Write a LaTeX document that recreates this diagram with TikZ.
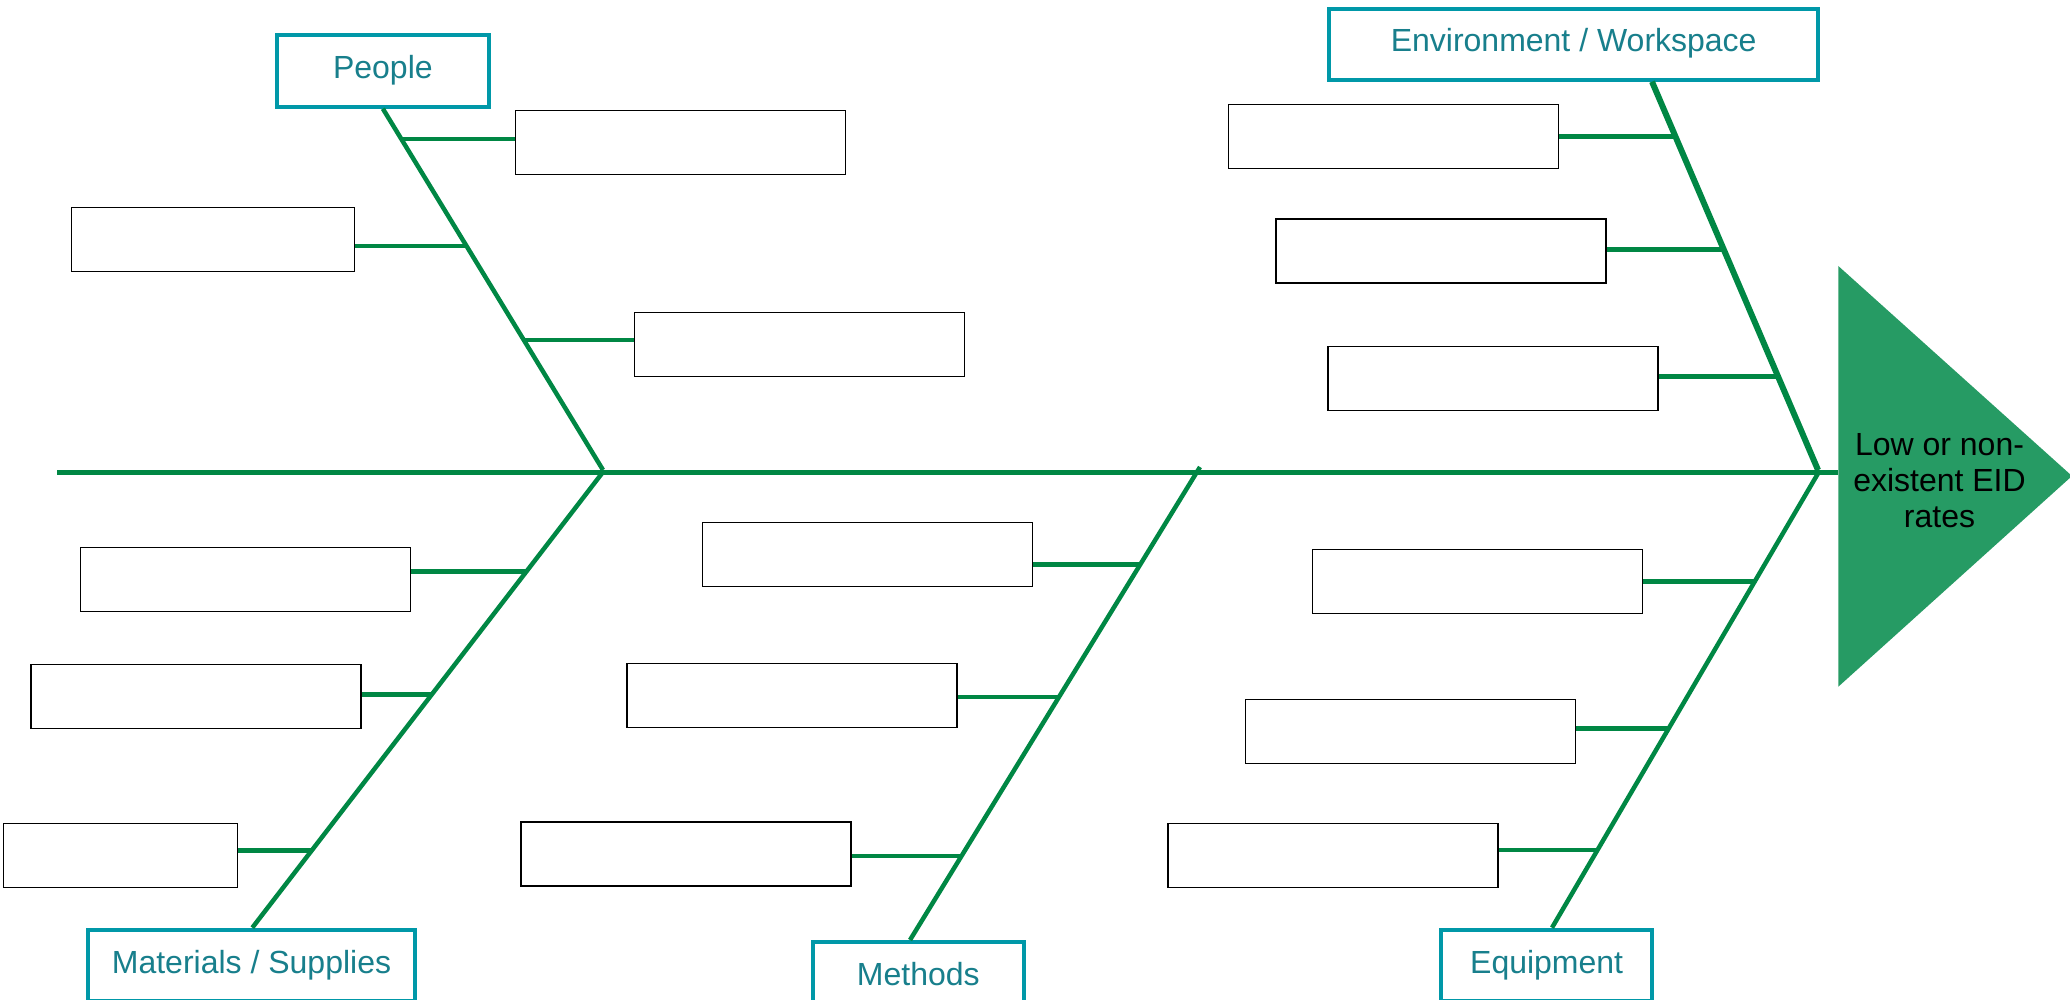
\documentclass[tikz,border=0pt]{standalone}
\usepackage{fontspec}
\setmainfont{Liberation Sans}
\definecolor{bone}{RGB}{0,135,68}
\definecolor{headgreen}{RGB}{38,155,100}
\definecolor{catline}{RGB}{0,152,168}
\definecolor{cattext}{RGB}{24,127,140}
\begin{document}
\begin{tikzpicture}[x=1pt,y=-1pt,
  cat/.style={draw=catline, line width=4pt, fill=white, text=cattext,
    font=\fontsize{32}{36}\selectfont, inner sep=0pt,
    text height=23pt, text depth=8pt, minimum height=71.7pt},
  cause/.style={draw=black, line width=1.3pt, fill=white, inner sep=0pt,
    minimum width=330pt, minimum height=64pt},
  bonel/.style={draw=bone, line width=4.5pt},
  subbone/.style={draw=bone, line width=4.5pt},
]
\useasboundingbox (0,0) rectangle (2070,1000);
\clip (0,0) rectangle (2070,1000);

% head
\coordinate (ht) at (1838.3,266);
\coordinate (hb) at (1838.3,686.7);
\coordinate (htip) at (2072,476);
\fill[headgreen] (ht) -- (htip) -- (hb) -- cycle;
\node[align=center, inner sep=0pt, font=\fontsize{32}{36}\selectfont] (effect) at (1939.5,480.7) {Low or non-\\existent EID\\rates};

% category nodes
\node[cat, minimum width=211.7pt] (people) at (382.85,70.85) {People};
\node[cat, minimum width=488.7pt, minimum height=70.4pt] (env) at (1573.65,44.5) {Environment / Workspace};
\node[cat, minimum width=327.6pt] (mat) at (251.5,965.5) {Materials / Supplies};
\node[cat, minimum width=211.3pt] (meth) at (918.35,977.85) {Methods};
\node[cat, minimum width=211.3pt] (equip) at (1546.65,965.5) {Equipment};

% spine and bones
\coordinate (tail) at (57,472);
\coordinate (hl) at (1838.3,472);
\coordinate (jp) at (603,470);
\coordinate (jm) at (603,472);
\coordinate (matb) at (252.3,927.7);
\coordinate (jme) at (1200,467);
\coordinate (methb) at (910,940);
\coordinate (envt) at (1652,81.7);
\coordinate (jenv) at (1818,470);
\coordinate (jeq) at (1820,470);
\coordinate (eqb) at (1552,927.7);

\draw[bonel, line width=5pt] (tail) -- (hl);
\draw[bonel] (people.south) -- (jp);
\draw[bonel] (jm) -- (matb);
\draw[bonel] (jme) -- (methb);
\draw[bonel, line width=6pt] (envt) -- (jenv);
\draw[bonel] (jeq) -- (eqb);

% points on bones
\coordinate (pA) at (401.5,139);
\coordinate (pB) at (466.5,246);
\coordinate (pC) at (525,340);
\coordinate (pD) at (1675,136.7);
\coordinate (pE) at (1723.5,249.3);
\coordinate (pF) at (1777,376.7);
\coordinate (pG) at (526.3,571.7);
\coordinate (pH) at (431.9,694.3);
\coordinate (pI) at (312,850.3);
\coordinate (pJ) at (1139.5,564.3);
\coordinate (pK) at (1058.5,697);
\coordinate (pL) at (962,856);
\coordinate (pM) at (1754.4,581.7);
\coordinate (pN) at (1668,728.3);
\coordinate (pO) at (1597,850);

% cause boxes
\node[cause] (A) at (680.65,142.35) {};
\node[cause, minimum width=283pt] (B) at (213.3,239.2) {};
\node[cause] (C) at (799.35,344.35) {};
\node[cause] (D) at (1393.8,136.8) {};
\node[cause] (E) at (1441,251) {};
\node[cause] (F) at (1493,378.5) {};
\node[cause] (G) at (245.65,579.8) {};
\node[cause] (H) at (196,696.65) {};
\node[cause, minimum width=234pt] (I) at (120.8,855.2) {};
\node[cause] (J) at (867.65,554.8) {};
\node[cause] (K) at (792,695.8) {};
\node[cause] (L) at (685.9,853.85) {};
\node[cause] (M) at (1477.35,581.5) {};
\node[cause] (N) at (1410.8,731.5) {};
\node[cause] (O) at (1332.85,855.8) {};

% sub-bones
\draw[subbone] (pA) -- (pA -| A.west);
\draw[subbone] (pB) -- (pB -| B.east);
\draw[subbone] (pC) -- (pC -| C.west);
\draw[subbone] (pD) -- (pD -| D.east);
\draw[subbone] (pE) -- (pE -| E.east);
\draw[subbone] (pF) -- (pF -| F.east);
\draw[subbone] (pG) -- (pG -| G.east);
\draw[subbone] (pH) -- (pH -| H.east);
\draw[subbone] (pI) -- (pI -| I.east);
\draw[subbone] (pJ) -- (pJ -| J.east);
\draw[subbone] (pK) -- (pK -| K.east);
\draw[subbone] (pL) -- (pL -| L.east);
\draw[subbone] (pM) -- (pM -| M.east);
\draw[subbone] (pN) -- (pN -| N.east);
\draw[subbone] (pO) -- (pO -| O.east);
\end{tikzpicture}
\end{document}
